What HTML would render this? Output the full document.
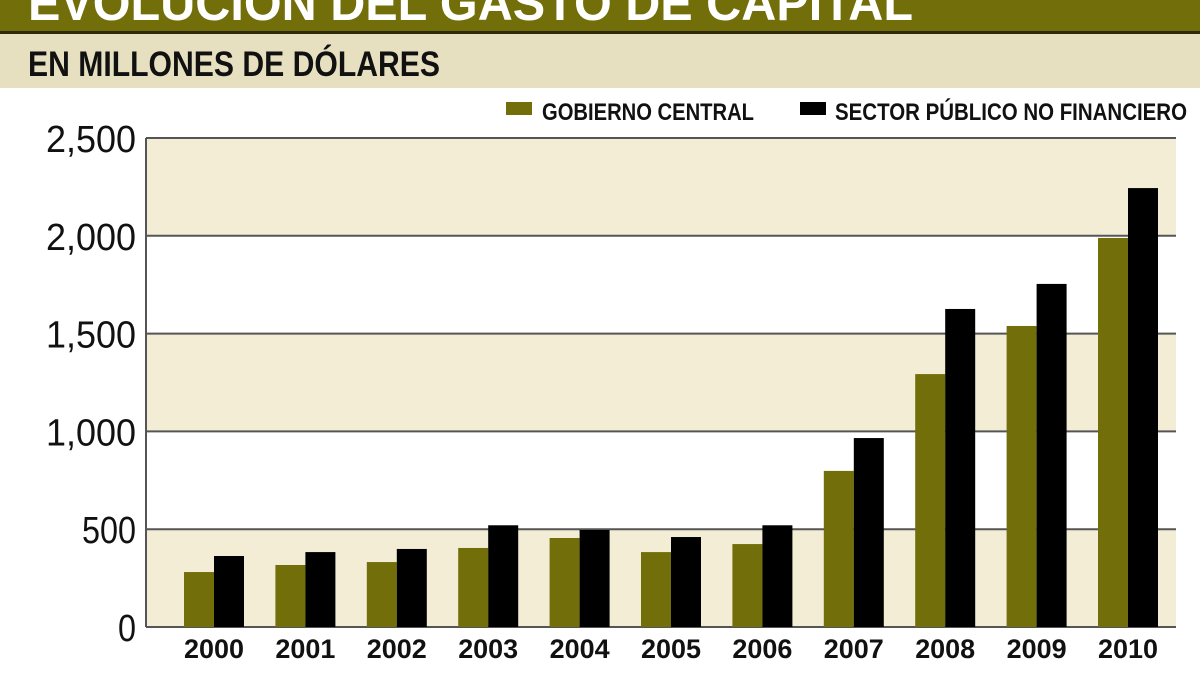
<!DOCTYPE html>
<html><head><meta charset="utf-8"><style>
body{margin:0;width:1200px;height:675px;overflow:hidden;background:#fff;font-family:"Liberation Sans",sans-serif}
</style></head><body>
<svg width="1200" height="675">
<rect x="0" y="0" width="1200" height="31" fill="#726e0a"/>
<rect x="0" y="31" width="1200" height="3" fill="#2e2c08"/>
<text x="28" y="20" font-size="50" font-weight="bold" fill="#fff" textLength="885" lengthAdjust="spacingAndGlyphs">EVOLUCIÓN DEL GASTO DE CAPITAL</text>
<rect x="0" y="34" width="1200" height="54" fill="#e6e0c0"/>
<text x="28" y="76" font-size="35" font-weight="bold" fill="#111" textLength="412" lengthAdjust="spacingAndGlyphs">EN MILLONES DE DÓLARES</text>
<g>
<rect x="506" y="102" width="26" height="13" fill="#726e0a"/>
<text x="542" y="120" font-size="24" font-weight="bold" fill="#111" textLength="212" lengthAdjust="spacingAndGlyphs">GOBIERNO CENTRAL</text>
<rect x="800" y="102" width="26" height="13" fill="#000"/>
<text x="835" y="120" font-size="24" font-weight="bold" fill="#111" textLength="352" lengthAdjust="spacingAndGlyphs">SECTOR PÚBLICO NO FINANCIERO</text>
</g>
<g id="plot"></g>
</svg>
<script>
const years=["2000","2001","2002","2003","2004","2005","2006","2007","2008","2009","2010"];
const gobierno=[281,317,332,404,455,383,424,798,1293,1539,1989];
const sector=[363,383,399,520,496,460,520,966,1626,1754,2244];
const ticks=[0,500,1000,1500,2000,2500];
const NS="http://www.w3.org/2000/svg";
const g=document.getElementById('plot');
const x0=146,x1=1176,yZero=627,yTop=138,maxV=2500;
const y=v=>yZero-(v/maxV)*(yZero-yTop);
const step=91.4,first=184,bw=30;
function mk(t,a){const e=document.createElementNS(NS,t);for(const k in a)e.setAttribute(k,a[k]);g.appendChild(e);return e;}
for(let i=0;i<ticks.length-1;i++){
 const r=mk('rect',{x:x0,y:y(ticks[i+1]),width:x1-x0,height:y(ticks[i])-y(ticks[i+1]),fill:i%2===0?'#f3edd6':'#fff'});
 
 
}
ticks.forEach(t=>{
 const l=mk('line',{x1:x0,x2:x1,y1:y(t),y2:y(t),stroke:'#555','stroke-width':2});
 
 
 const lbl=t.toLocaleString('en-US');
 const tx=mk('text',{x:136,y:y(t)+14,'font-size':38,'text-anchor':'end',fill:'#111',textLength:lbl.length*18,lengthAdjust:'spacingAndGlyphs'});
 tx.textContent=lbl;
 
 
});
const ax=mk('line',{x1:x0,x2:x0,y1:yTop,y2:yZero,stroke:'#555','stroke-width':2});


years.forEach((yr,i)=>{
 const bx=first+i*step;
 const a=mk('rect',{x:bx,y:y(gobierno[i]),width:bw,height:yZero-y(gobierno[i]),fill:'#726e0a'});
 
 
 const b=mk('rect',{x:bx+bw,y:y(sector[i]),width:bw,height:yZero-y(sector[i]),fill:'#000'});
 
 
 const t=mk('text',{x:bx+bw,y:658,'font-size':27,'font-weight':'bold','text-anchor':'middle',fill:'#111',textLength:60,lengthAdjust:'spacingAndGlyphs'});
 t.textContent=yr;
 
 
});
</script>
</body></html>
